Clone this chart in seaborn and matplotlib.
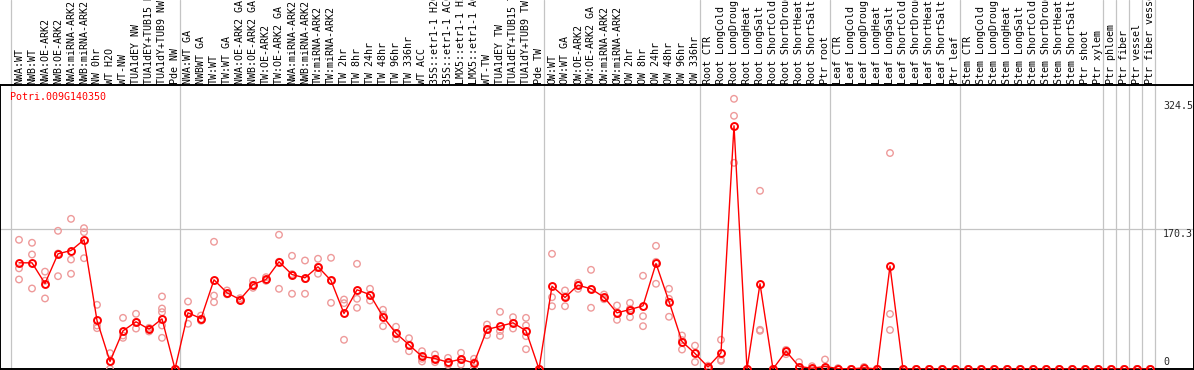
import numpy as np
import pandas as pd
import matplotlib
matplotlib.use("Agg")
import matplotlib.pyplot as plt
import seaborn as sns
from matplotlib.transforms import blended_transform_factory

# ---------------- data ----------------
gene_id = "Potri.009G140350"

categories = [
    "NWA:WT", "NWB:WT", "NWA:OE-ARK2", "NWB:OE-ARK2", "NWA:miRNA-ARK2", "NWB:miRNA-ARK2",
    "NW 0hr", "WT H2O", "WT-NW", "TUA1dEY NW", "TUA1dEY+TUB15 NW", "TUA1dY+TUB9 NW", "Pde NW",
    "NWA:WT GA", "NWBWT GA", "TW:WT", "TW:WT GA", "NWA:OE-ARK2 GA", "NWB:OE-ARK2 GA",
    "TW:OE-ARK2", "TW:OE-ARK2 GA", "NWA:miRNA-ARK2", "NWB:miRNA-ARK2", "TW:miRNA-ARK2",
    "TW:miRNA-ARK2", "TW 2hr", "TW 8hr", "TW 24hr", "TW 48hr", "TW 96hr", "TW 336hr",
    "WT ACC", "35S::etr1-1 H2O", "35S::etr1-1 ACC", "LMX5::etr1-1 H2O", "LMX5::etr1-1 ACC",
    "WT-TW", "TUA1dEY TW", "TUA1dEY+TUB15 TW", "TUA1dY+TUB9 TW", "Pde TW",
    "OW:WT", "OW:WT GA", "OW:OE-ARK2", "OW:OE-ARK2 GA", "OW:miRNA-ARK2", "OW:miRNA-ARK2",
    "OW 2hr", "OW 8hr", "OW 24hr", "OW 48hr", "OW 96hr", "OW 336hr",
    "Root CTR", "Root LongCold", "Root LongDrought", "Root LongHeat", "Root LongSalt",
    "Root ShortCold", "Root ShortDrought", "Root ShortHeat", "Root ShortSalt", "Ptr root",
    "Leaf CTR", "Leaf LongCold", "Leaf LongDrought", "Leaf LongHeat", "Leaf LongSalt",
    "Leaf ShortCold", "Leaf ShortDrought", "Leaf ShortHeat", "Leaf ShortSalt", "Ptr leaf",
    "Stem CTR", "Stem LongCold", "Stem LongDrought", "Stem LongHeat", "Stem LongSalt",
    "Stem ShortCold", "Stem ShortDrought", "Stem ShortHeat", "Stem ShortSalt", "Ptr shoot",
    "Ptr xylem", "Ptr phloem", "Ptr fiber", "Ptr vessel", "Ptr fiber vessel",
]

means = [
    128.7, 128.7, 103.6, 139.6, 143.6, 156.6, 58.8, 9.1, 46.3, 57.2, 48.3, 60.8, 0.0,
    68.1, 61.2, 108.1, 92.4, 84.2, 102.4, 108.5, 129.9, 114.5, 110.5, 123.9, 107.3,
    67.3, 96.0, 90.1, 63.3, 43.4, 29.3, 15.2, 12.7, 8.3, 11.9, 7.1, 47.9, 51.9, 56.0, 46.3, 0.0,
    100.4, 86.7, 101.6, 97.2, 87.0, 68.1, 72.1, 76.6, 127.9, 81.8, 33.3, 18.8,
    2.5, 19.6, 294.8, 0.0, 103.3, 0.0, 21.6, 3.0, 1.0, 3.0,
    0.5, 0.0, 1.5, 0.0, 124.8, 0.0, 0.0, 0.0, 0.0, 0.0,
    0.0, 0.0, 0.0, 0.0, 0.0, 0.0, 0.0, 0.0, 0.0, 0.0,
    0.0, 0.0, 0.0, 0.0, 0.0,
]

rep_1 = [
    156.6, 153.0, 118.0, 167.5, 182.0, 170.7, 77.8, 19.2, 62.0, 66.9, 49.9, 87.9, 0.0,
    81.8, 64.8, 154.2, 95.2, 85.8, 106.9, 111.3, 162.7, 137.2, 131.5, 133.6, 134.8,
    84.2, 127.5, 97.2, 71.8, 51.2, 37.3, 21.6, 17.6, 13.5, 19.6, 12.4, 53.9, 69.3, 62.8, 62.0, 0.0,
    139.6, 95.2, 104.5, 120.2, 90.3, 77.0, 80.2, 113.0, 149.3, 97.2, 40.6, 28.3,
    4.0, 35.4, 327.5, 0.0, 216.0, 0.0, 23.2, 8.3, 3.4, 11.5,
    1.0, 0.0, 2.5, 0.0, 261.8, 0.0, 0.0, 0.0, 0.0, 0.0,
    0.0, 0.0, 0.0, 0.0, 0.0, 0.0, 0.0, 0.0, 0.0, 0.0,
    0.0, 0.0, 0.0, 0.0, 0.0,
]
rep_2 = [
    122.0, 138.8, 107.0, 140.0, 132.7, 165.8, 52.7, 9.0, 40.6, 57.0, 48.0, 73.3, 0.0,
    68.0, 60.4, 89.0, 91.2, 83.0, 102.0, 107.3, 130.0, 115.0, 109.0, 124.0, 107.0,
    79.8, 85.1, 90.0, 66.0, 42.0, 29.0, 12.4, 12.5, 6.3, 11.0, 8.0, 48.5, 46.0, 56.0, 52.7, 0.0,
    87.0, 88.0, 102.0, 97.0, 86.0, 68.0, 73.0, 64.0, 129.9, 85.1, 35.0, 19.0,
    2.5, 11.2, 306.9, 0.0, 47.5, 0.0, 21.0, 1.0, 0.0, 0.0,
    0.5, 0.0, 1.5, 0.0, 66.7, 0.0, 0.0, 0.0, 0.0, 0.0,
    0.0, 0.0, 0.0, 0.0, 0.0, 0.0, 0.0, 0.0, 0.0, 0.0,
    0.0, 0.0, 0.0, 0.0, 0.0,
]
rep_3 = [
    108.5, 97.6, 85.5, 112.5, 115.4, 134.3, 49.5, 0.2, 37.8, 49.0, 45.5, 68.9, 0.0,
    54.8, 58.5, 81.0, 90.5, 83.8, 98.4, 107.0, 97.2, 91.2, 91.2, 115.4, 80.2,
    35.4, 74.2, 83.0, 51.9, 36.6, 21.6, 9.1, 8.3, 5.0, 5.5, 1.0, 41.0, 40.2, 49.1, 39.8, 0.0,
    76.1, 76.1, 97.2, 74.2, 84.6, 59.6, 62.8, 51.9, 103.3, 63.3, 23.6, 8.5,
    0.5, 9.9, 249.9, 0.0, 46.3, 0.0, 18.0, 0.0, 0.0, 0.0,
    0.0, 0.0, 0.0, 0.0, 47.3, 0.0, 0.0, 0.0, 0.0, 0.0,
    0.0, 0.0, 0.0, 0.0, 0.0, 0.0, 0.0, 0.0, 0.0, 0.0,
    0.0, 0.0, 0.0, 0.0, 0.0,
]
# additional replicates for samples with more than three (sample index, value)
extra_reps = [(11, 52.7), (11, 37.8), (39, 24.0)]

group_breaks = [0, 13, 41, 53, 63, 73, 84, 85, 86, 87, 88]
axis_labels = [324.5, 170.3, 0]

# ---------------- style ----------------
sns.set_style("white")
plt.rcParams["font.family"] = ["DejaVu Sans Mono", "DejaVu Sans"]

W, H = 1194, 370
fig = plt.figure(figsize=(W / 100, H / 100), dpi=100)
top_px, bot_px = 85, 369
right_px = 1193.5
ax = fig.add_axes([0, (H - bot_px) / H, right_px / W, (bot_px - top_px) / H])

x0_px, step = 19.0, 13.0
ax.set_xlim(-x0_px / step, (right_px - x0_px) / step)
px_per_unit = 0.825
ax.set_ylim(0, (bot_px - top_px) / px_per_unit)

red = "#ff0000"
light = "#ee9a9a"
grey = "#c4c4c4"

x_idx = np.arange(len(categories))

# replicate points
rows = []
for reps in (rep_1, rep_2, rep_3):
    for i, v in enumerate(reps):
        rows.append((i, v))
rows.extend(extra_reps)
rep_df = pd.DataFrame(rows, columns=["x", "value"])
sns.scatterplot(data=rep_df, x="x", y="value", ax=ax, marker="o", s=22,
                facecolor="none", edgecolor=light, linewidth=1.0, zorder=3)

# mean line
mean_df = pd.DataFrame({"x": x_idx, "value": means})
sns.lineplot(data=mean_df, x="x", y="value", ax=ax, color=red, linewidth=1.0,
             marker="o", markersize=5, markerfacecolor="none", markeredgecolor=red,
             markeredgewidth=1.4, zorder=4, estimator=None, sort=False)

# grid lines
ymax_ext = bot_px / (bot_px - top_px)
for b in group_breaks:
    ax.axvline(b - 0.58, ymin=0, ymax=ymax_ext, color=grey, lw=0.9, clip_on=False, zorder=1)
ax.axhline(170.3, color=grey, lw=0.9, zorder=1)
# right border through the header
ax.axvline(ax.get_xlim()[1], ymin=0, ymax=ymax_ext, color="black", lw=1.4, clip_on=False, zorder=5)

for sp in ax.spines.values():
    sp.set_color("black")
    sp.set_linewidth(1.4)
ax.set_xticks([])
ax.set_yticks([])
ax.set_xlabel("")
ax.set_ylabel("")

# header labels
trans = blended_transform_factory(ax.transData, ax.transAxes)
for i, c in enumerate(categories):
    ax.text(i, 1 + 1.5 / (bot_px - top_px), c, rotation=90, ha="center", va="bottom",
            fontsize=7.2, color="black", transform=trans, clip_on=False)

# gene id
fig.text(10 / W, 1 - 92 / H, gene_id, color=red, fontsize=7.2, ha="left", va="top")

# value labels on the right
lab_x = 1163 / W
trans2 = blended_transform_factory(fig.transFigure, ax.transData)
for v in axis_labels:
    if v == 0:
        fig.text(lab_x, 4.8, "0", fontsize=7.2, ha="left", va="baseline", transform=trans2)
    else:
        fig.text(lab_x, v, f"{v}", fontsize=7.2, ha="left", va="top", transform=trans2)

fig.savefig("out.png", dpi=100)
